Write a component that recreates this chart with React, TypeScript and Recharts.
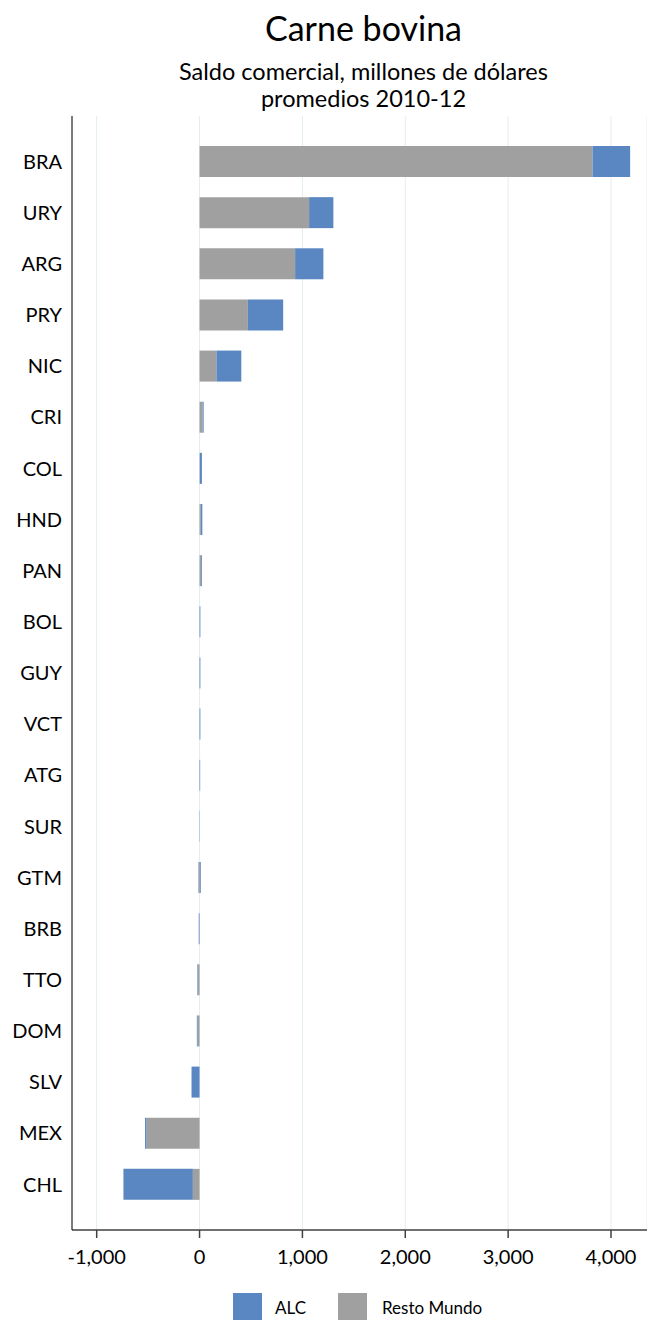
import React from "react";
import { BarChart, Bar, XAxis, YAxis, CartesianGrid } from "recharts";

// Saldo comercial carne bovina, millones de dólares, promedios 2010-12
const countries = ["BRA", "URY", "ARG", "PRY", "NIC", "CRI", "COL", "HND", "PAN", "BOL", "GUY", "VCT", "ATG", "SUR", "GTM", "BRB", "TTO", "DOM", "SLV", "MEX", "CHL"];
const restoMundo = [3820, 1065, 929, 470, 164, 30, 3, 12, 15, 0, 0, 0, 0, 0, -12, 0, -15, -18, 0, -515, -65];
const alc = [366, 236, 275, 343, 242, 10, 20, 15, 8, 8, 8, 8, 6, 3, 12, -8, -6, -8, -78, -15, -675];
const xTicks = [-1000, 0, 1000, 2000, 3000, 4000];

const BLUE = "#5A87C1";
const GRAY = "#A0A0A0";
const FONT = "Lato, sans-serif";

const data = countries.map((c, i) => ({ country: c, resto: restoMundo[i], alc: alc[i] }));

const fmt = (v: number) => v.toLocaleString("en-US");

export default function App() {
    return (
        <div style={{ position: "absolute", left: 0, top: 0, width: 647, height: 1320, background: "#fff", fontFamily: FONT, color: "#000", overflow: "hidden" }}>
            <div style={{ position: "absolute", top: 7, left: 80, width: 567, textAlign: "center", fontSize: 34, lineHeight: "42px" }}>Carne bovina</div>
            <div style={{ position: "absolute", top: 58, left: 80, width: 567, textAlign: "center", fontSize: 23.5, lineHeight: "27px" }}>
                Saldo comercial, millones de dólares
            </div>
            <div style={{ position: "absolute", top: 85, left: 80, width: 567, textAlign: "center", fontSize: 23.5, lineHeight: "27px" }}>
                promedios 2010-12
            </div>
            <div style={{ position: "absolute", top: 0, left: 0 }}>
                <BarChart
                    width={647}
                    height={1320}
                    data={data}
                    layout="vertical"
                    stackOffset="sign"
                    margin={{ top: 116, right: 0, bottom: 50, left: 0 }}
                >
                    <CartesianGrid horizontal={false} stroke="#E4ECF2" />
                    <XAxis
                        type="number"
                        domain={[-1240, 4350]}
                        ticks={xTicks}
                        allowDataOverflow
                        tickFormatter={fmt}
                        height={40}
                        tickSize={8}
                        tickMargin={12}
                        stroke="#404040"
                        strokeWidth={1.5}
                        tick={{ fill: "#000", fontSize: 20, fontFamily: FONT }}
                    />
                    <YAxis
                        type="category"
                        dataKey="country"
                        width={72}
                        padding={{ top: 20, bottom: 20 }}
                        tickLine={false}
                        tickSize={0}
                        tickMargin={10}
                        stroke="#000"
                        tick={{ fill: "#000", fontSize: 20, fontFamily: FONT }}
                    />
                    <Bar dataKey="resto" name="Resto Mundo" stackId="a" fill={GRAY} barSize={31} isAnimationActive={false} />
                    <Bar dataKey="alc" name="ALC" stackId="a" fill={BLUE} barSize={31} isAnimationActive={false} />
                </BarChart>
            </div>
            <div style={{ position: "absolute", top: 1293, left: 233, display: "flex", alignItems: "flex-start", fontSize: 17 }}>
                <div style={{ width: 29, height: 29, background: BLUE }} />
                <div style={{ marginLeft: 13, marginTop: 4, width: 63 }}>ALC</div>
                <div style={{ width: 29, height: 29, background: GRAY }} />
                <div style={{ marginLeft: 15, marginTop: 4 }}>Resto Mundo</div>
            </div>
        </div>
    );
}
